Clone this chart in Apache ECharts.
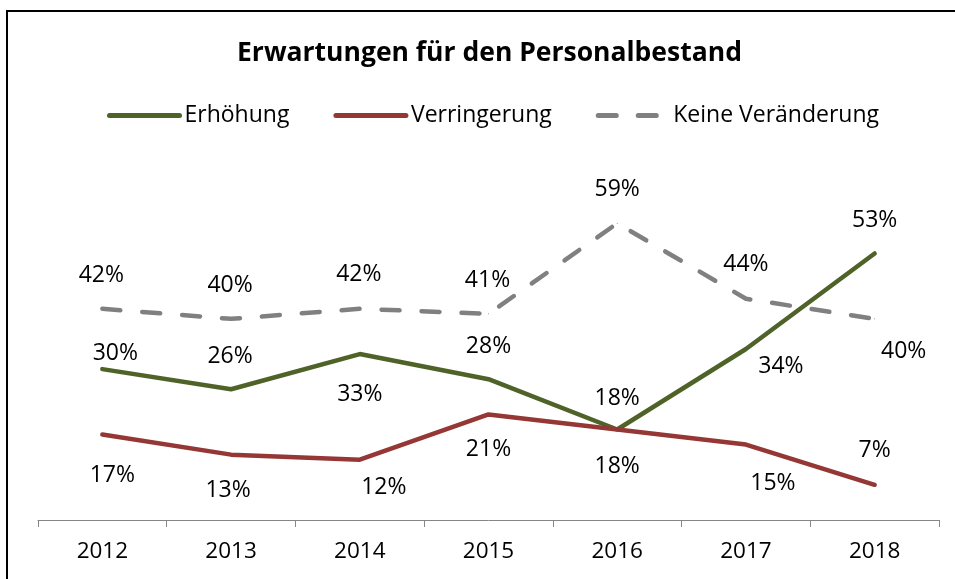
<!DOCTYPE html>
<html>
<head>
<meta charset="utf-8">
<style>
  html, body { margin: 0; padding: 0; background: #fff; }
  #chart { width: 955px; height: 579px; }
</style>
<script src="https://cdn.jsdelivr.net/npm/echarts@6/dist/echarts.min.js"></script>
</head>
<body>
<div id="chart"></div>
<script>
// data (percent)
const years = ["2012", "2013", "2014", "2015", "2016", "2017", "2018"];
const erhoehung = [30, 26, 33, 28, 18, 34, 53];
const verringerung = [17, 13, 12, 21, 18, 15, 7];
const keineVeraenderung = [42, 40, 42, 41, 59, 44, 40];

// where each data label sits relative to its point (layout only)
const erhLabelOffsets = [[13, -16], [-1, -33], [0, 40], [0, -33], [0, -31], [35, 17], [0, -33]];
const verLabelOffsets = [[10, 41], [-3, 36], [24, 28], [0, 35], [0, 37], [27, 39], [0, -34]];
const keiLabelOffsets = [[-1, -33], [-1, -33], [-1, -34], [-1, -33], [0, -34], [0, -34], [29, 33]];

const FONT = "'Open Sans', 'Noto Sans', sans-serif";

function withLabels(values, offsets) {
    return values.map(function(v, i) {
        return {
            value: v,
            label: { position: "inside", offset: offsets[i] }
        };
    });
}

function lineSeries(name, color, type, values, offsets) {
    return {
        name: name,
        type: "line",
        symbol: "circle",
        symbolSize: 1,
        itemStyle: { color: color },
        lineStyle: {
            color: color,
            width: 4.5,
            type: type,
            cap: "round"
        },
        label: {
            show: true,
            formatter: "{c}%",
            color: "#000",
            fontFamily: FONT,
            fontSize: 23
        },
        emphasis: { disabled: true },
        animation: false,
        data: withLabels(values, offsets)
    };
}

let chartInstance = echarts.init(document.getElementById("chart"));

let option = {
    backgroundColor: "#fff",
    graphic: [
        {
            type: "rect",
            shape: { x: 7, y: 11, width: 1000, height: 1000 },
            style: { fill: "none", stroke: "#000", lineWidth: 2 },
            silent: true
        }
    ],
    title: {
        text: "Erwartungen für den Personalbestand",
        left: 237,
        top: 40,
        padding: 0,
        textStyle: {
            fontFamily: FONT,
            fontSize: 26.5,
            fontWeight: "bold",
            color: "#000"
        }
    },
    legend: {
        left: 107,
        top: 104,
        padding: 0,
        itemWidth: 70,
        itemHeight: 14,
        itemGap: 44,
        itemStyle: { opacity: 0 },
        lineStyle: { width: 5, cap: "round" },
        textStyle: {
            fontFamily: FONT,
            fontSize: 23,
            color: "#000"
        },
        data: ["Erhöhung", "Verringerung", "Keine Veränderung"]
    },
    grid: {
        left: 38,
        right: 16,
        top: 168,
        bottom: 59
    },
    xAxis: {
        type: "category",
        boundaryGap: true,
        data: years,
        axisLine: { lineStyle: { color: "#868686", width: 1 } },
        axisTick: { show: true, length: 7, lineStyle: { color: "#868686" } },
        axisLabel: {
            color: "#000",
            fontFamily: FONT,
            fontSize: 22.5,
            margin: 20
        }
    },
    yAxis: {
        type: "value",
        min: 0,
        max: 70,
        show: false,
        splitLine: { show: false }
    },
    series: [
        lineSeries("Erhöhung", "#4F6228", "solid", erhoehung, erhLabelOffsets),
        lineSeries("Verringerung", "#953735", "solid", verringerung, verLabelOffsets),
        lineSeries("Keine Veränderung", "#808080", [18, 22], keineVeraenderung, keiLabelOffsets)
    ]
};

chartInstance.setOption(option);
window.addEventListener("resize", chartInstance.resize);
</script>
</body>
</html>
